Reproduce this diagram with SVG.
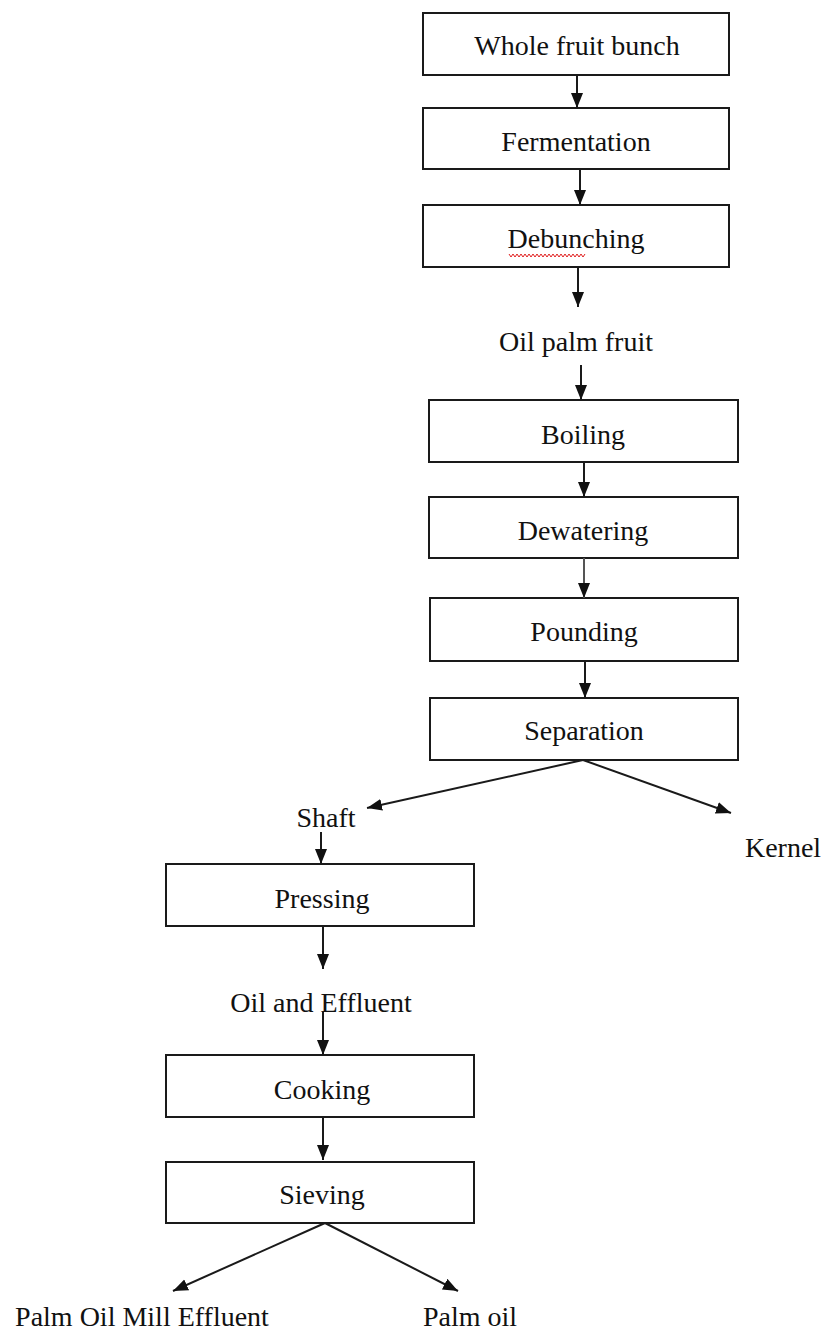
<svg xmlns="http://www.w3.org/2000/svg" width="822" height="1334" viewBox="0 0 822 1334">
<style>
.box{fill:#fff;stroke:#1a1a1a;stroke-width:2}
.t{font-family:"Liberation Serif","Times New Roman",serif;font-size:28px;fill:#111;text-anchor:middle}
.c{stroke:#1a1a1a;stroke-width:2;fill:none;marker-end:url(#ah)}
</style>
<defs>
<marker id="ah" markerUnits="userSpaceOnUse" markerWidth="16" markerHeight="16" viewBox="0 0 16 16" refX="15" refY="8" orient="auto">
<path d="M0,2 L15,8 L0,14 Z" fill="#111"/>
</marker>
</defs>
<rect width="822" height="1334" fill="#fff"/>
<g id="n1"><rect class="box" x="423" y="13" width="306" height="62"/><text class="t" x="577" y="55">Whole fruit bunch</text></g>
<g id="n2"><rect class="box" x="423" y="108" width="306" height="61"/><text class="t" x="576" y="151">Fermentation</text></g>
<g id="n3"><rect class="box" x="423" y="205" width="306" height="62"/><text class="t" x="576" y="248">Debunching</text>
<path d="M509,254 l2,3 l2,-3 l2,3 l2,-3 l2,3 l2,-3 l2,3 l2,-3 l2,3 l2,-3 l2,3 l2,-3 l2,3 l2,-3 l2,3 l2,-3 l2,3 l2,-3 l2,3 l2,-3 l2,3 l2,-3 l2,3 l2,-3 l2,3 l2,-3 l2,3 l2,-3 l2,3 l2,-3 l2,3 l2,-3 l2,3 l2,-3 l2,3 l2,-3 l2,3 l2,-3" fill="none" stroke="#e02020" stroke-width="1"/></g>
<g id="n4"><text class="t" x="576" y="351">Oil palm fruit</text></g>
<g id="n5"><rect class="box" x="429" y="400" width="309" height="62"/><text class="t" x="583" y="444">Boiling</text></g>
<g id="n6"><rect class="box" x="429" y="497" width="309" height="61"/><text class="t" x="583" y="540">Dewatering</text></g>
<g id="n7"><rect class="box" x="430" y="598" width="308" height="63"/><text class="t" x="584" y="641">Pounding</text></g>
<g id="n8"><rect class="box" x="430" y="698" width="308" height="62"/><text class="t" x="584" y="740">Separation</text></g>
<g id="n9"><text class="t" x="326" y="827">Shaft</text></g>
<g id="n10"><text class="t" x="783" y="857">Kernel</text></g>
<g id="n11"><rect class="box" x="166" y="864" width="308" height="62"/><text class="t" x="322" y="908">Pressing</text></g>
<g id="n12"><text class="t" x="321" y="1012">Oil and Effluent</text></g>
<g id="n13"><rect class="box" x="166" y="1055" width="308" height="62"/><text class="t" x="322" y="1099">Cooking</text></g>
<g id="n14"><rect class="box" x="166" y="1162" width="308" height="61"/><text class="t" x="322" y="1204">Sieving</text></g>
<g id="n15"><text class="t" x="142" y="1326">Palm Oil Mill Effluent</text></g>
<g id="n16"><text class="t" x="470" y="1326">Palm oil</text></g>
<g id="connectors">
<line class="c" x1="577" y1="75" x2="577" y2="108"/>
<line class="c" x1="580" y1="169" x2="580" y2="205"/>
<line class="c" x1="578" y1="267" x2="578" y2="307"/>
<line class="c" x1="581" y1="365" x2="581" y2="400"/>
<line class="c" x1="584" y1="462" x2="584" y2="497"/>
<line class="c" x1="584" y1="558" x2="584" y2="598" style="stroke:#555"/>
<line class="c" x1="585" y1="661" x2="585" y2="698"/>
<line class="c" x1="583" y1="760" x2="367" y2="808"/>
<line class="c" x1="583" y1="760" x2="731" y2="813"/>
<line class="c" x1="321" y1="832" x2="321" y2="864"/>
<line class="c" x1="323" y1="926" x2="323" y2="969"/>
<line class="c" x1="323" y1="1012" x2="323" y2="1055"/>
<line class="c" x1="323" y1="1117" x2="323" y2="1160"/>
<line class="c" x1="325" y1="1223" x2="173" y2="1291"/>
<line class="c" x1="325" y1="1223" x2="458" y2="1291"/>
</g>
</svg>
